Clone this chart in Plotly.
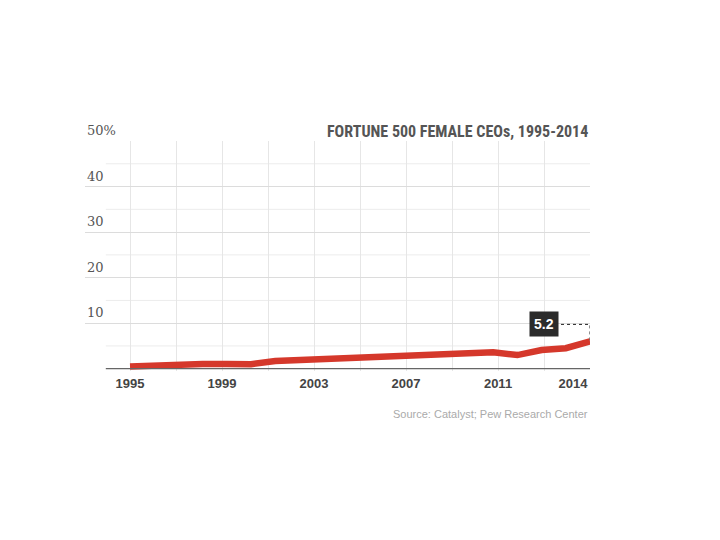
import plotly.graph_objects as go

# ---- data ----
years = list(range(1995, 2015))
pct_female_ceos = [0.5, 0.8, 1.05, 1.05, 1.05, 1.0, 1.7, 1.9, 2.1, 2.35,
                   2.6, 2.8, 3.25, 3.1, 3.65, 3.6, 3.0, 4.1, 4.5, 6.0]
last_label = "5.2"

x_tick_labels = ["1995", "1999", "2003", "2007", "2011", "2014"]
x_tick_pos = [1995, 1998.8, 2002.6, 2006.4, 2010.2, 2013.3]
y_tick_vals = [10, 20, 30, 40, 50]
y_tick_text = ["10", "20", "30", "40", "50%"]
y_minor_vals = [5, 15, 25, 35, 45]

title_text = "FORTUNE 500 FEMALE CEOs, 1995-2014"
source_text = "Source: Catalyst; Pew Research Center"

RED = "#d5382b"

fig = go.Figure()
fig.add_trace(go.Scatter(
    x=years, y=pct_female_ceos, mode="lines",
    line=dict(color=RED, width=6.5),
    hoverinfo="skip", showlegend=False,
))

shapes = []
for v in y_minor_vals:
    shapes.append(dict(type="line", xref="x", yref="y", x0=1994, x1=years[-1],
                       y0=v, y1=v, line=dict(color="#ececec", width=1), layer="below"))
# baseline
shapes.append(dict(type="line", xref="x", yref="y", x0=1994, x1=years[-1],
                   y0=0, y1=0, line=dict(color="#666666", width=1.2), layer="above"))
# dotted connector from label to last point
shapes.append(dict(type="path", xref="x", yref="y",
                   xsizemode="pixel", ysizemode="pixel",
                   xanchor=years[-1], yanchor=pct_female_ceos[-1],
                   path="M -29,17 L 0,17 L 0,0",
                   line=dict(color="#222222", width=1, dash="dot")))

annotations = [
    dict(x=years[-1], y=pct_female_ceos[-1], xref="x", yref="y",
         text="<b>" + last_label + "</b>", showarrow=False,
         xanchor="center", yanchor="middle", xshift=-46, yshift=17,
         bgcolor="#2b2b2b", borderpad=4,
         font=dict(family="Arial, Liberation Sans, sans-serif", size=14, color="white")),
    dict(x=1, y=1, xref="paper", yref="paper", xanchor="right", yanchor="bottom",
         yshift=-2, text="<b>" + title_text + "</b>", showarrow=False,
         font=dict(family="Liberation Sans Narrow, Arial Narrow, Roboto Condensed, sans-serif",
                   size=16, color="#555555")),
    dict(x=1, y=0, xref="paper", yref="paper", xanchor="right", yanchor="top",
         yshift=-35, text=source_text, showarrow=False,
         font=dict(family="Arial, Liberation Sans, sans-serif", size=11, color="#aaaaaa")),
]
for v, t in zip(y_tick_vals, y_tick_text):
    annotations.append(dict(x=0, y=v, xref="paper", yref="y", xanchor="left",
                            yanchor="bottom", yshift=1, text=t, showarrow=False,
                            font=dict(family="DejaVu Serif, Georgia, serif", size=13,
                                      color="#555555")))

fig.update_layout(
    width=720, height=540,
    margin=dict(l=77, r=138, t=132.7, b=176.7),
    paper_bgcolor="white", plot_bgcolor="white",
    shapes=shapes, annotations=annotations,
    xaxis=dict(
        range=[1993.141, 2014],
        tickmode="array", tickvals=x_tick_pos,
        ticktext=["<b>" + t + "</b>" for t in x_tick_labels],
        showgrid=False,
        minor=dict(tick0=1995, dtick=1.9, showgrid=True, gridcolor="#e6e6e6", gridwidth=1),
        zeroline=False, showline=False, ticks="",
        tickfont=dict(family="Arial, Liberation Sans, sans-serif", size=13, color="#444444"),
        ticklabelstandoff=3,
    ),
    yaxis=dict(
        range=[-0.5, 50],
        tickmode="array", tickvals=y_tick_vals, ticktext=y_tick_text,
        showgrid=True, gridcolor="#dcdcdc", gridwidth=1,
        zeroline=False, showline=False, ticks="", showticklabels=False,
    ),
)

fig.write_html("out.html")
